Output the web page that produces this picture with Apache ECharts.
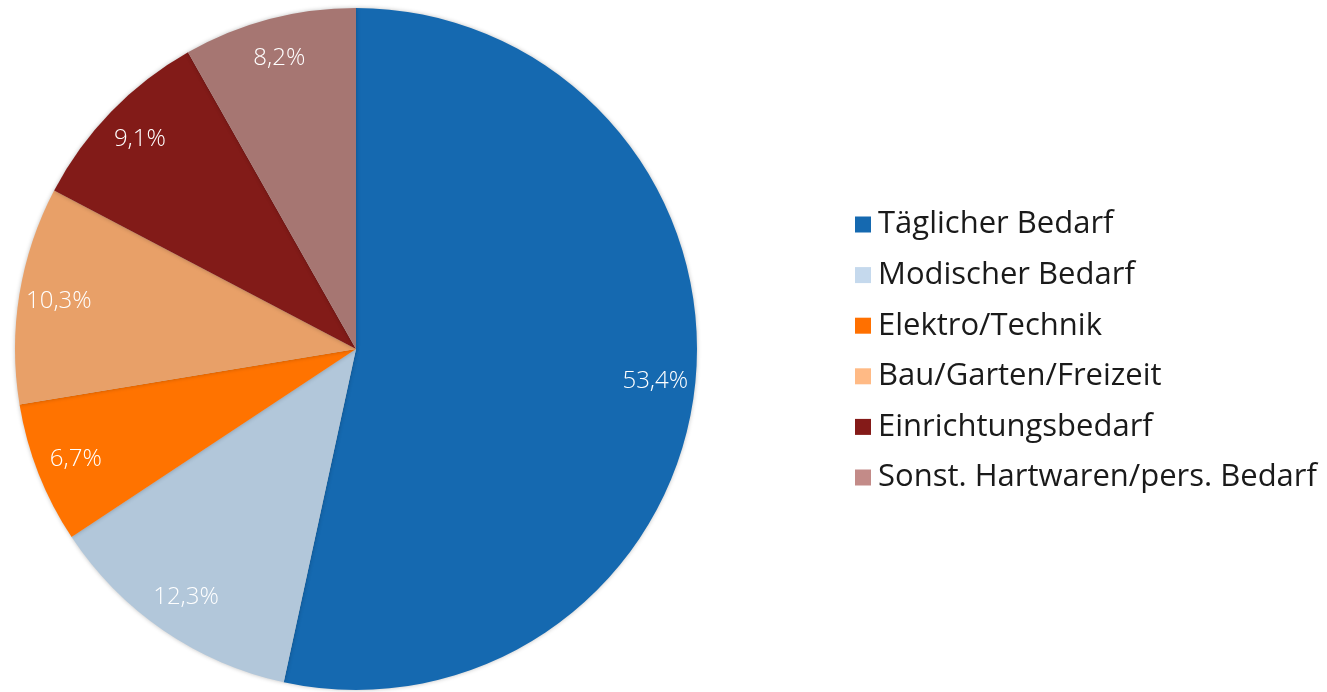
<!DOCTYPE html>
<html><head><meta charset="utf-8">
<script src="https://cdn.jsdelivr.net/npm/echarts@6/dist/echarts.min.js"></script>
<style>html,body{margin:0;padding:0;background:#fff}#c{width:1327px;height:692px}</style>
</head><body><div id="c"></div>
<script>
const categories = ['Täglicher Bedarf','Modischer Bedarf','Elektro/Technik','Bau/Garten/Freizeit','Einrichtungsbedarf','Sonst. Hartwaren/pers. Bedarf'];
const values = [53.4, 12.3, 6.7, 10.3, 9.1, 8.2];
const sliceColors = ['#1569B0','#B2C7DA','#FF7300','#E8A068','#821B18','#A67672'];
const legendColors = ['#1569B0','#C5D9ED','#FF7000','#FFBA85','#841A18','#C38B88'];

const fmt = v => v.toFixed(1).replace('.', ',') + '%';
const chart = echarts.init(document.getElementById('c'), null, {renderer:'canvas'});
chart.setOption({
  animation: false,
  legend: {
    orient: 'vertical', left: 850, top: 204,
    itemWidth: 16, itemHeight: 16, itemGap: 19.6,
    icon: 'rect',
    textStyle: {fontFamily: 'Open Sans', fontSize: 31, lineHeight: 30, color: '#1a1a1a', padding: [0,0,0,2]},
    data: categories.map((n,i)=>({name:n, itemStyle:{color:legendColors[i]}}))
  },
  series: [{
    type: 'pie', center: [356, 349], radius: [0, 341], startAngle: 90, clockwise: true,
    avoidLabelOverlap: false,
    label: {show: false}, labelLine: {show:false},
    itemStyle: {shadowBlur: 4, shadowColor: 'rgba(0,0,0,0.25)'},
    emphasis: {disabled: true},
    data: categories.map((n,i)=>({name:n, value:values[i], itemStyle:{color:sliceColors[i]}}))
  },{
    type: 'pie', center: [356, 349], radius: [255, 341], startAngle: 90, clockwise: true,
    silent: true, avoidLabelOverlap: false,
    itemStyle: {color: 'rgba(0,0,0,0)'},
    label: {show: true, position: 'inside', color: '#fff', fontFamily: 'Open Sans', fontWeight: 300, fontSize: 24,
      formatter: p => fmt(p.value)},
    labelLine: {show:false},
    emphasis: {disabled: true},
    data: categories.map((n,i)=>({name:n, value:values[i]}))
  }]
});
</script></body></html>
